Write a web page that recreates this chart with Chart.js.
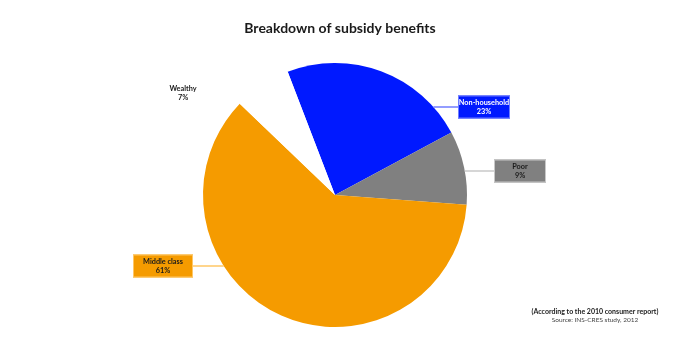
<!DOCTYPE html>
<html>
<head>
<meta charset="utf-8">
<script src="https://cdn.jsdelivr.net/npm/chart.js@4"></script>
<style>
  html, body { margin: 0; padding: 0; background: #fff; }
  #wrap { width: 680px; height: 340px; }
</style>
</head>
<body>
<div id="wrap"><canvas id="myChart" width="680" height="340"></canvas></div>
<script>
const categories = ['Non-household', 'Poor', 'Middle class', 'Wealthy'];
const shares = [23, 9, 61, 7];
const sliceColors = ['#0019ff', '#808080', '#f59b00', '#ffffff'];
const boxBorders = ['#6f7dff', '#c8c8c8', '#ffc766', '#ffffff'];
const textColors = ['#ffffff', '#1a1a1a', '#1a1a1a', '#1a1a1a'];

// where each callout sits: leader line height, box left/width
const callouts = [
    { lineY: 107, boxX: 458, boxW: 52, side: 'right' },
    { lineY: 171, boxX: 494, boxW: 52, side: 'right' },
    { lineY: 266, boxX: 133, boxW: 60, side: 'left' },
    { textX: 183, textY: 89, plain: true }
];

const labelPlugin = {
    id: 'labels',
    afterDraw(chart) {
        const ctx = chart.ctx;
        const arcs = chart.getDatasetMeta(0).data;
        ctx.save();
        // title
        ctx.fillStyle = '#1a1a1a';
        ctx.textAlign = 'center';
        ctx.textBaseline = 'middle';
        ctx.font = 'bold 14px Lato';
        ctx.fillText('Breakdown of subsidy benefits', 340, 28);

        arcs.forEach((arc, i) => {
            const c = callouts[i];
            const txt = [categories[i], shares[i] + '%'];
            ctx.font = 'bold 7.3px Lato';
            if (c.plain) {
                ctx.fillStyle = textColors[i];
                ctx.fillText(txt[0], c.textX, c.textY);
                ctx.fillText(txt[1], c.textX, c.textY + 9);
                return;
            }
            const dy = c.lineY - arc.y;
            const dx = Math.sqrt(Math.max(arc.outerRadius * arc.outerRadius - dy * dy, 0));
            const edgeX = c.side === 'right' ? arc.x + dx : arc.x - dx;
            const boxEdge = c.side === 'right' ? c.boxX : c.boxX + c.boxW;
            ctx.strokeStyle = boxBorders[i];
            ctx.lineWidth = 1.5;
            ctx.beginPath();
            ctx.moveTo(edgeX, c.lineY);
            ctx.lineTo(boxEdge, c.lineY);
            ctx.stroke();

            const h = 23;
            const top = c.lineY - h / 2;
            ctx.fillStyle = sliceColors[i];
            ctx.fillRect(c.boxX, top, c.boxW, h);
            ctx.lineWidth = 1;
            ctx.strokeRect(c.boxX + 0.5, top + 0.5, c.boxW - 1, h - 1);
            ctx.fillStyle = textColors[i];
            ctx.fillText(txt[0], c.boxX + c.boxW / 2, c.lineY - 4.5);
            ctx.fillText(txt[1], c.boxX + c.boxW / 2, c.lineY + 4.5);
        });

        // footnote
        ctx.fillStyle = '#1a1a1a';
        ctx.font = 'bold 7px Lato';
        ctx.fillText('(According to the 2010 consumer report)', 595, 312);
        ctx.fillStyle = '#444';
        ctx.font = '6.5px Lato';
        ctx.fillText('Source: INS-CRES study, 2012', 595, 320);
        ctx.restore();
    }
};

new Chart(document.getElementById('myChart'), {
    type: 'pie',
    data: {
        labels: categories,
        datasets: [{
            data: shares,
            backgroundColor: sliceColors,
            borderWidth: 0
        }]
    },
    options: {
        responsive: false,
        animation: false,
        rotation: -21,
        layout: { padding: { left: 203, right: 213, top: 63, bottom: 13 } },
        plugins: {
            legend: { display: false },
            tooltip: { enabled: false },
            title: { display: false }
        }
    },
    plugins: [labelPlugin]
});
</script>
</body>
</html>
